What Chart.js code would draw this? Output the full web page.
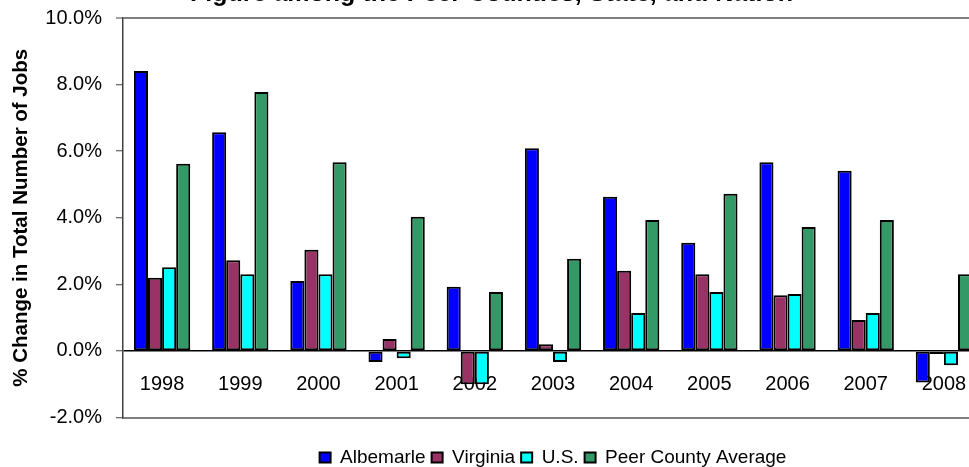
<!DOCTYPE html>
<html>
<head>
<meta charset="utf-8">
<script src="https://cdn.jsdelivr.net/npm/chart.js@4"></script>
<style>
  html, body { margin: 0; padding: 0; background: #fff; overflow: hidden; }
  body { width: 969px; height: 467px; position: relative; }
  #wrap { position: absolute; left: 0; top: -23px; width: 1070px; height: 500px; }
</style>
</head>
<body>
<div id="wrap"><canvas id="jobsChart"></canvas></div>
<script>
const years = ['1998', '1999', '2000', '2001', '2002', '2003', '2004', '2005', '2006', '2007', '2008'];
const albemarle = [8.41, 6.57, 2.10, -0.33, 1.93, 6.09, 4.63, 3.25, 5.67, 5.41, -0.95];
const virginia = [2.20, 2.72, 3.04, 0.36, -1.00, 0.20, 2.41, 2.30, 1.67, 0.93, -0.09];
const us = [2.51, 2.30, 2.30, -0.22, -1.00, -0.33, 1.14, 1.77, 1.71, 1.14, -0.43];
const peer = [5.62, 7.78, 5.67, 4.03, 1.77, 2.77, 3.93, 4.72, 3.72, 3.93, 2.30];
const yTicks = [-2, 0, 2, 4, 6, 8, 10];

const font = 'Liberation Sans, Arial, sans-serif';

function bars(label, data, color) {
    return {
        label: label,
        data: data,
        backgroundColor: color,
        borderColor: '#000',
        borderWidth: 2,
        borderSkipped: false,
        barPercentage: 1,
        categoryPercentage: 0.72
    };
}

new Chart(document.getElementById('jobsChart'), {
    type: 'bar',
    data: {
        labels: years,
        datasets: [
            bars('Albemarle', albemarle, '#0000FF'),
            bars('Virginia', virginia, '#993366'),
            bars('U.S.', us, '#00FFFF'),
            bars('Peer County Average', peer, '#339966')
        ]
    },
    options: {
        responsive: true,
        maintainAspectRatio: false,
        animation: false,
        devicePixelRatio: 1,
        layout: { padding: { left: 0, right: 87, top: 0, bottom: 0 } },
        plugins: {
            title: {
                display: true,
                text: 'Figure among the Peer Counties, State, and Nation',
                color: '#000',
                font: { family: font, size: 25, weight: 'bold' },
                padding: { top: 2, bottom: 9 }
            },
            legend: {
                position: 'bottom',
                fullSize: false,
                labels: {
                    color: '#000',
                    font: { family: font, size: 19 },
                    boxWidth: 11,
                    boxHeight: 10,
                    padding: 6
                }
            },
            tooltip: { enabled: false }
        },
        scales: {
            x: {
                z: 1,
                grid: { drawOnChartArea: false, drawTicks: false },
                border: { color: '#808080', width: 2 },
                ticks: {
                    color: '#000',
                    font: { family: font, size: 20 },
                    mirror: true,
                    padding: 21,
                    maxRotation: 0,
                    autoSkip: false
                },
                afterFit: function (scale) { scale.height = 24.5; }
            },
            y: {
                min: -2,
                max: 10,
                afterBuildTicks: function (scale) {
                    scale.ticks = yTicks.map(v => ({ value: v }));
                },
                ticks: {
                    color: '#000',
                    font: { family: font, size: 20 },
                    padding: 14,
                    callback: v => v.toFixed(1) + '%'
                },
                grid: {
                    color: c => c.tick.value === 10 ? '#808080' : (c.tick.value === 0 ? '#000' : 'rgba(0,0,0,0)'),
                    lineWidth: c => c.tick.value === 10 ? 2 : 1.5,
                    tickColor: '#404040',
                    tickLength: 7,
                    tickWidth: 1
                },
                border: { color: '#404040', width: 1.5 },
                title: {
                    display: true,
                    text: '% Change in Total Number of Jobs',
                    color: '#000',
                    font: { family: font, size: 20.5, weight: 'bold' },
                    padding: { top: 9, bottom: 0 }
                },
                afterFit: function (scale) { scale.width = 123; }
            }
        }
    }
});
</script>
</body>
</html>
